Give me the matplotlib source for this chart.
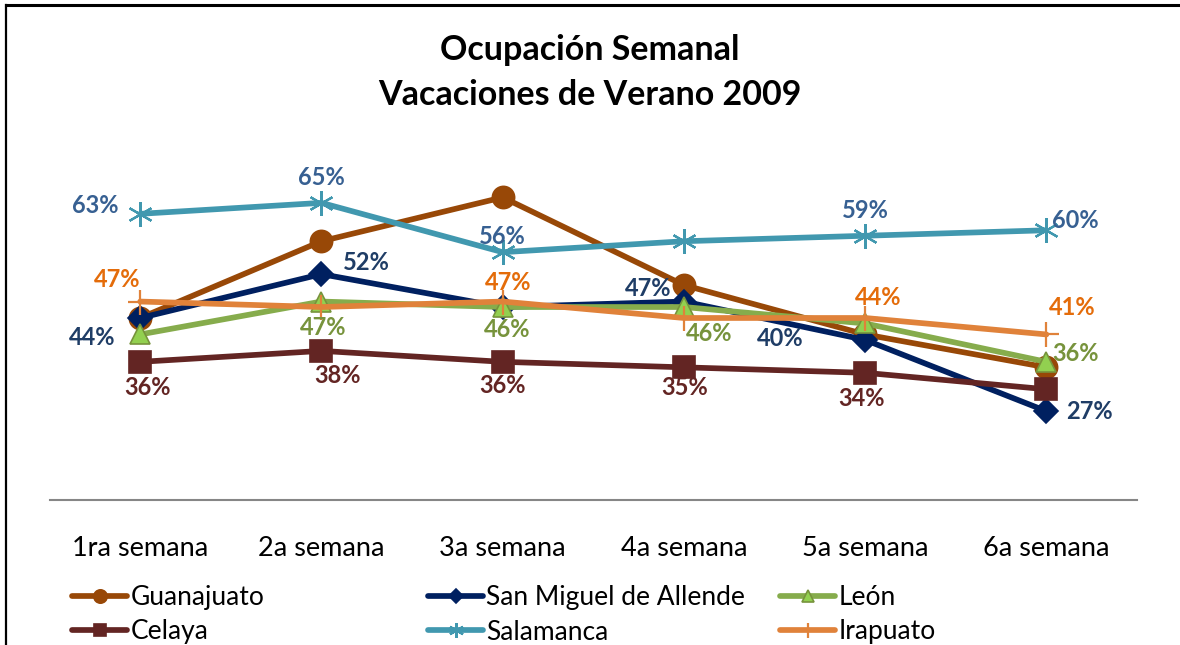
import matplotlib
matplotlib.use("Agg")
import matplotlib.pyplot as plt
from matplotlib.lines import Line2D

plt.rcParams['font.family'] = ['Lato', 'DejaVu Sans']

semanas = ["1ra semana", "2a semana", "3a semana", "4a semana", "5a semana", "6a semana"]
guanajuato = [44, 58, 66, 50, 41, 35]
san_miguel = [44, 52, 46, 47, 40, 27]
leon = [41, 47, 46, 46, 43, 36]
celaya = [36, 38, 36, 35, 34, 31]
salamanca = [63, 65, 56, 58, 59, 60]
irapuato = [47, 46, 47, 44, 44, 41]

# series: name, values, line colour, marker, marker size, marker face, marker edge, label colour
series = [
    ("Guanajuato", guanajuato, "#984807", "o", 16, "#984807", "#984807", None),
    ("San Miguel de Allende", san_miguel, "#002060", "D", 12.5, "#002060", "#002060", "#1F3D66"),
    ("León", leon, "#86AC4C", "^", 15, "#92D050", "#77933C", "#77933C"),
    ("Celaya", celaya, "#632523", "s", 15.5, "#632523", "#632523", "#632523"),
    ("Salamanca", salamanca, "#4198AF", (6, 2, 0), 18, "#4198AF", "#4198AF", "#376092"),
    ("Irapuato", irapuato, "#E0823A", "+", 18, "#E0823A", "#E0823A", "#E46C0A"),
]

# which points get labels, and where (pixel offsets from the point)
label_offsets = {
    "San Miguel de Allende": [(-48, -20), (45, 12), None, (-36, 13), (-85, 1), (43, 0)],
    "León": [None, (2, -26), (5, -22), (25, -26), None, (29, 8)],
    "Celaya": [(7, -26), (16, -25), (0, -24), (1, -20), (-4, -26), None],
    "Salamanca": [(-45, 8), (0, 25), (0, 16), None, (0, 25), (29, 10)],
    "Irapuato": [(-23, 22), None, (6, 19), None, (13, 20), (26, 27)],
}

fig = plt.figure(figsize=(11.8, 6.45), dpi=100)
ax = fig.add_axes([0.042, 0.2248, 0.9216, 0.5457])
x = list(range(len(semanas)))

handles = {}
for name, vals, col, mk, ms, mfc, mec, lcol in series:
    mew = 1.6 if mk in ("+", (6, 2, 0)) else 1.2
    h, = ax.plot(x, vals, color=col, lw=4.1, marker=mk, markersize=ms,
                 markerfacecolor=mfc, markeredgecolor=mec, markeredgewidth=mew,
                 label=name, solid_capstyle="round")
    handles[name] = h
    offs = label_offsets.get(name)
    if offs:
        for xi, v, off in zip(x, vals, offs):
            if off is None:
                continue
            ax.annotate(f"{v}%", (xi, v), xytext=off, textcoords="offset pixels",
                        ha="center", va="center", fontsize=17, fontweight="bold",
                        color=lcol)

ax.set_xlim(-0.5, 5.5)
ax.set_ylim(10.8, 75)
ax.set_yticks([])
ax.set_xticks(x)
ax.set_xticklabels(semanas, fontsize=19.5)
ax.tick_params(axis="x", length=0, pad=26)
for s in ("top", "right", "left"):
    ax.spines[s].set_visible(False)
ax.spines["bottom"].set_color("#868686")
ax.spines["bottom"].set_linewidth(1.5)

fig.text(0.5, 0.888, "Ocupación Semanal\nVacaciones de Verano 2009", ha="center", va="center",
         fontsize=24.5, fontweight="bold", linespacing=1.5)

# legend: three columns placed like Excel
cols = [["Guanajuato", "Celaya"], ["San Miguel de Allende", "Salamanca"], ["León", "Irapuato"]]
col_x = [72, 428, 780]
for names, px in zip(cols, col_x):
    fig.legend([handles[n] for n in names], names, loc="upper left",
               bbox_to_anchor=(px / 1180, 1 - 585 / 645), frameon=False,
               fontsize=19, handlelength=2.1, handletextpad=0.11,
               labelspacing=0.36, borderpad=0, borderaxespad=0, markerscale=0.6)

# chart border (top and left only visible)
fig.add_artist(Line2D([6 / 1180, 6 / 1180], [0, 1 - 5 / 645], color="black", lw=1.6))
fig.add_artist(Line2D([6 / 1180, 1], [1 - 5 / 645, 1 - 5 / 645], color="black", lw=2.2))

fig.savefig("out.png", dpi=100)
